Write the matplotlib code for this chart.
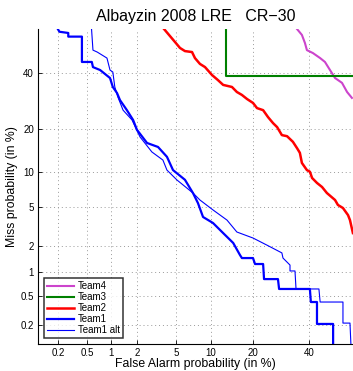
import numpy as np
import matplotlib
matplotlib.use("Agg")
import matplotlib.pyplot as plt
from statistics import NormalDist

plt.rcParams['font.family'] = ['Liberation Sans', 'DejaVu Sans']

# ---- data: (false alarm %, miss %) ----
team4_fa = [35.3, 37.2, 38.4, 39.2, 41.6, 44.6, 46.6, 48.7, 50.8, 53.7, 55.8, 57.8]
team4_miss = [58.1, 55.7, 52.4, 49.4, 48.2, 46.1, 44.5, 41.2, 38.0, 36.1, 32.6, 30.4]

team3_fa = [13.1, 13.1, 70.0]
team3_miss = [70.0, 38.9, 38.9]

team2_fa = [3.85, 4.9, 5.46, 6.06, 7.0, 7.42, 8.18, 9.01, 10.26, 11.4, 12.5, 14.5, 15.7,
            17.0, 18.4, 20.1, 21.3, 23.2, 24.8, 26.5, 27.9, 29.6, 31.5, 33.7, 35.3, 36.4,
            37.2, 39.2, 40.4, 41.3, 43.3, 45.4, 47.4, 50.8, 52.0, 54.1, 56.2, 57.0, 58.2]
team2_miss = [58.1, 52.8, 50.3, 49.0, 48.6, 46.1, 43.7, 42.4, 39.2, 37.2, 35.3, 34.5, 32.6,
              31.5, 30.0, 28.6, 26.8, 26.1, 23.8, 21.9, 20.7, 18.4, 18.1, 16.6, 15.0, 13.9,
              11.7, 10.3, 10.0, 8.9, 8.1, 7.48, 6.64, 5.75, 5.18, 4.85, 4.15, 3.71, 2.74]

team1_fa = [0.20, 0.21, 0.28, 0.28, 0.43, 0.43, 0.58, 0.60, 0.74, 0.98, 1.06, 1.19,
            1.29, 1.55, 1.82, 2.01, 2.58, 3.35, 4.11, 4.70, 6.06, 7.13, 7.87, 8.68,
            10.45, 12.5, 14.8, 16.5, 17.0, 20.1, 20.7, 23.2, 23.5, 28.2, 28.6, 40.4,
            40.8, 43.3, 43.3, 50.0, 50.0]
team1_miss = [58.0, 57.0, 56.5, 55.0, 55.0, 44.5, 44.5, 42.4, 41.2, 38.0, 34.5, 32.2,
              29.6, 26.1, 22.9, 19.9, 16.3, 15.3, 13.0, 10.3, 8.6, 6.64, 5.39, 3.98,
              3.47, 2.74, 2.15, 1.58, 1.46, 1.46, 1.245, 1.245, 0.82, 0.82, 0.616, 0.616,
              0.416, 0.416, 0.207, 0.207, 0.1]

team1alt_fa = [0.57, 0.60, 0.68, 0.90, 0.98, 1.06, 1.12, 1.22, 1.40, 1.77, 2.17, 2.90,
               3.75, 4.11, 5.12, 7.13, 8.18, 10.45, 13.35, 15.7, 20.1, 24.4, 29.6, 30.0,
               32.6, 32.6, 34.5, 34.9, 44.1, 44.6, 54.1, 54.1, 57.0, 57.4]
team1alt_miss = [60.0, 49.4, 48.6, 46.1, 41.2, 40.4, 34.5, 30.7, 26.1, 22.9, 17.9, 14.1,
                 12.3, 10.3, 8.57, 6.64, 5.75, 4.65, 3.71, 2.81, 2.43, 2.04, 1.67, 1.46,
                 1.21, 1.03, 1.03, 0.616, 0.616, 0.416, 0.416, 0.213, 0.213, 0.1]

ticks = [0.2, 0.5, 1, 2, 5, 10, 20, 40]
tick_labels = ["0.2", "0.5", "1", "2", "5", "10", "20", "40"]

nd = NormalDist()
def probit(p):
    return np.array([nd.inv_cdf(min(max(v / 100.0, 1e-6), 1 - 1e-6)) for v in p])

fig = plt.figure(figsize=(3.53, 3.71), dpi=100)
ax = fig.add_axes([38 / 353, 27 / 371, 1 - 38 / 353, 315 / 371])

ax.plot(probit(team4_fa), probit(team4_miss), color="#cc44cc", lw=1.5, label="Team4")
ax.plot(probit(team3_fa), probit(team3_miss), color="#008000", lw=1.5, label="Team3")
ax.plot(probit(team2_fa), probit(team2_miss), color="#ff0000", lw=1.8, label="Team2")
ax.plot(probit(team1_fa), probit(team1_miss), color="#0000ff", lw=1.6, label="Team1")
ax.plot(probit(team1alt_fa), probit(team1alt_miss), color="#0000ff", lw=0.8, label="Team1 alt")

ax.set_xlim(-3.087, 0.208)
ax.set_ylim(-3.076, 0.205)
tp = probit(ticks)
ax.set_xticks(tp); ax.set_xticklabels(tick_labels)
ax.set_yticks(tp); ax.set_yticklabels(tick_labels)
ax.tick_params(direction="in", length=3, width=0.6, labelsize=7, pad=3)
ax.grid(True, ls=(0, (1, 3)), color="#999999", lw=0.7)
for s in ("top", "right"):
    ax.spines[s].set_visible(False)
for s in ("left", "bottom"):
    ax.spines[s].set_linewidth(0.8)

ax.set_xlabel("False Alarm probability (in %)", fontsize=8.8, labelpad=0)
ax.set_ylabel("Miss probability (in %)", fontsize=8.8, labelpad=2)
ax.set_title("Albayzin 2008 LRE   CR\u221230", fontsize=11.5, pad=6)

leg = ax.legend(loc="lower left", fontsize=7, frameon=True, fancybox=False,
                edgecolor="black", handlelength=2.8, handletextpad=0.4,
                labelspacing=0.1, borderpad=0.3, borderaxespad=0.6)
leg.get_frame().set_linewidth(1.1)

fig.savefig("out.png", dpi=100)
